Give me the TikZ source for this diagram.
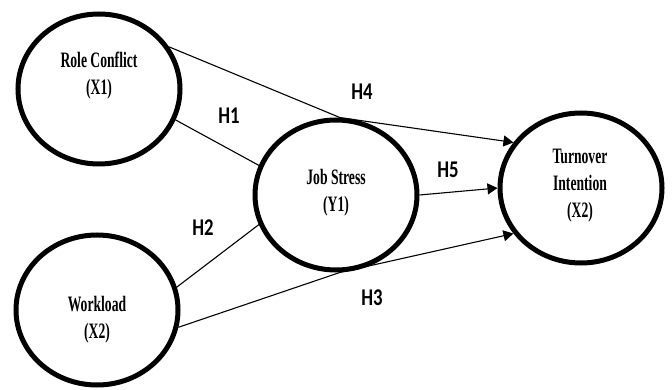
\documentclass[tikz,border=0pt]{standalone}
\usepackage{fontspec}
\newfontfamily\varfont[FakeStretch=0.62]{Liberation Serif}
\newfontfamily\hypfont[FakeStretch=0.78]{Carlito}
\usetikzlibrary{arrows.meta, shapes.geometric}

\begin{document}
\begin{tikzpicture}[x=1pt, y=-1pt,
  latent/.style={ellipse, draw, line width=5pt, minimum width=162pt,
                 minimum height=150pt},
  vartext/.style={align=center, font=\varfont\bfseries\fontsize{22}{27}\selectfont},
  hyp/.style={font=\hypfont\bfseries\fontsize{24}{24}\selectfont},
  link/.style={line width=1.1pt},
  effect/.style={link, -{Triangle[length=10pt,width=11pt]}}]
  \useasboundingbox (0,0) rectangle (672,390);
  % constructs
  \node[latent] (rc) at (99,89)  {};
  \node[latent] (wl) at (97,310) {};
  \node[latent] (js) at (336,195) {};
  \node[latent] (ti) at (581,188) {};
  \node[vartext] (rclab) at (99,76)  {Role Conflict\\(X1)};
  \node[vartext] (wllab) at (97,320) {Workload\\(X2)};
  \node[vartext] (jslab) at (336,193) {Job Stress\\(Y1)};
  \node[vartext] (tilab) at (580,186) {Turnover\\Intention\\(X2)};
  % paths
  \draw[link]   (rc.-22) -- (js.159);
  \draw[link]   (wl.16)  -- (js.201);
  \draw[effect] (rc.31)  -- (js.87)  -- (ti.146);
  \draw[effect] (wl.-12) -- (js.-87) -- (ti.214);
  \draw[effect] (js.east) -- (ti.west);
  % hypotheses
  \node[hyp] (h1) at (229,116) {H1};
  \node[hyp] (h2) at (203,228) {H2};
  \node[hyp] (h3) at (372,298) {H3};
  \node[hyp] (h4) at (362,92)  {H4};
  \node[hyp] (h5) at (448,170) {H5};
\end{tikzpicture}
\end{document}
